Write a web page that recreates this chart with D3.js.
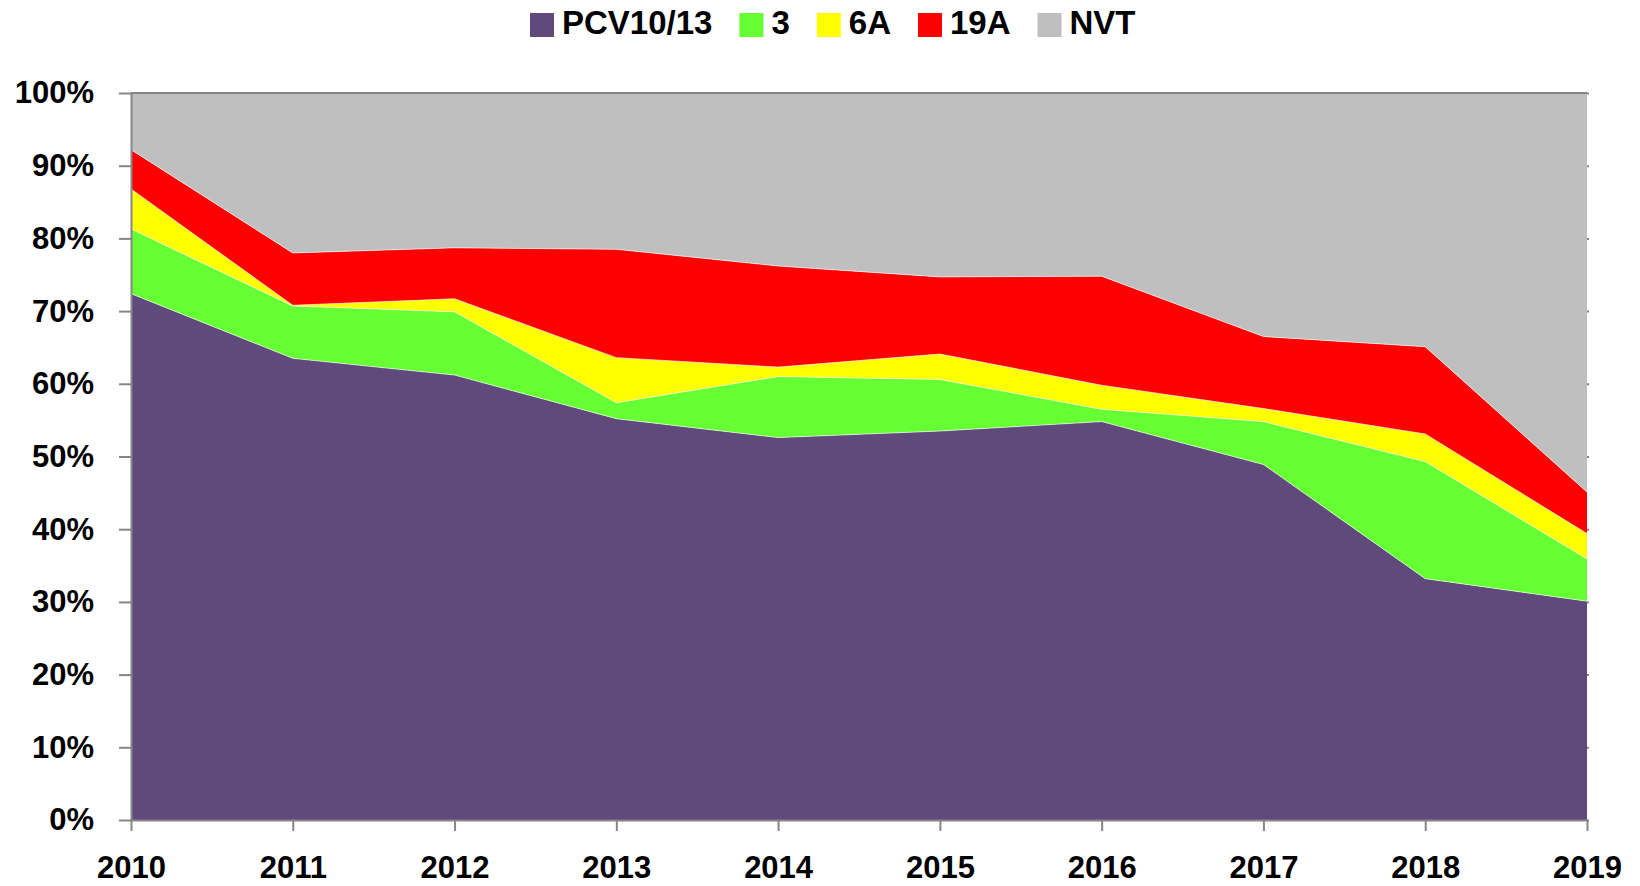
<!DOCTYPE html>
<html>
<head>
<meta charset="utf-8">
<script src="https://cdn.jsdelivr.net/npm/d3@7"></script>
<style>
  body { margin: 0; background: #fff; }
  svg text { font-family: "Liberation Sans", Arial, sans-serif; font-weight: bold; fill: #000; }
</style>
</head>
<body>
<svg id="chart" width="1640" height="886"></svg>
<script>
/*global d3*/

// years on the x axis
const years = [2010, 2011, 2012, 2013, 2014, 2015, 2016, 2017, 2018, 2019];

// share of cases per serotype group (%)
const pcv1013 = [72.4, 63.5, 61.2, 55.2, 52.6, 53.5, 54.8, 48.9, 33.2, 30.1];
const st3     = [ 8.9,  7.2,  8.7,  2.2,  8.4,  7.1,  1.7,  5.9, 16.1,  5.8];
const st6A    = [ 5.5,  0.1,  1.8,  6.2,  1.3,  3.5,  3.3,  1.8,  3.8,  3.5];
const st19A   = [ 5.4,  7.2,  7.0, 14.9, 13.9, 10.6, 15.0,  9.9, 12.0,  5.7];
const nvt     = [ 7.8, 22.0, 21.3, 21.5, 23.8, 25.3, 25.2, 33.5, 34.9, 54.9];

const keys = ["PCV10/13", "3", "6A", "19A", "NVT"];
const yTicks = [0, 0.1, 0.2, 0.3, 0.4, 0.5, 0.6, 0.7, 0.8, 0.9, 1];

const colors = {
    "PCV10/13": "#604a7b",
    "3": "#66ff33",
    "6A": "#ffff00",
    "19A": "#ff0000",
    "NVT": "#bfbfbf"
};

const margin = { top: 93, right: 53, bottom: 66, left: 131 };
const width = 1640 - margin.left - margin.right;
const height = 886 - margin.top - margin.bottom;

const rows = years.map((yr, i) => ({
    year: yr,
    "PCV10/13": pcv1013[i] / 100,
    "3": st3[i] / 100,
    "6A": st6A[i] / 100,
    "19A": st19A[i] / 100,
    "NVT": nvt[i] / 100
}));

const stack = d3.stack().keys(keys)(rows);

const svg = d3.select("#chart");
const g = svg.append("g")
    .attr("transform", `translate(${margin.left}, ${margin.top})`);

const x = d3.scaleLinear()
    .domain(d3.extent(years))
    .range([0, width]);

const y = d3.scaleLinear()
    .domain([0, 1])
    .range([height, 0]);

const area = d3.area()
    .x(d => x(d.data.year))
    .y0(d => y(d[0]))
    .y1(d => y(Math.min(1, d[1])));

g.selectAll(".layer")
    .data(stack)
    .enter()
    .append("path")
    .attr("class", "layer")
    .attr("fill", d => colors[d.key])
    .attr("d", area);

// thin light seams between the stacked areas
const seam = d3.line()
    .x(d => x(d.data.year))
    .y(d => y(d[1]));

g.selectAll(".seam")
    .data(stack.slice(0, 4))
    .enter()
    .append("path")
    .attr("class", "seam")
    .attr("fill", "none")
    .attr("stroke", "#ffffff")
    .attr("stroke-opacity", 0.6)
    .attr("stroke-width", 1)
    .attr("d", seam);

// top border at 100%
g.append("line")
    .attr("x1", 0)
    .attr("x2", width)
    .attr("y1", y(1))
    .attr("y2", y(1))
    .attr("stroke", "#868686")
    .attr("stroke-width", 2);

// tiny tick marks on the right edge
const yRight = g.append("g")
    .attr("transform", `translate(${width}, 0)`)
    .call(d3.axisRight(y).tickValues(yTicks).tickSize(2).tickFormat(""));
yRight.select(".domain").remove();
yRight.selectAll("line").attr("stroke", "#868686").attr("stroke-width", 2);

const yAxis = g.append("g")
    .attr("class", "y-axis")
    .call(d3.axisLeft(y)
        .tickValues(yTicks)
        .tickSize(12)
        .tickSizeOuter(0)
        .tickPadding(25)
        .tickFormat(d3.format(".0%")));

const xAxis = g.append("g")
    .attr("class", "x-axis")
    .attr("transform", `translate(0, ${height})`)
    .call(d3.axisBottom(x)
        .tickValues(years)
        .tickSize(11)
        .tickSizeOuter(0)
        .tickPadding(25)
        .tickFormat(d3.format("d")));

[yAxis, xAxis].forEach(ax => {
    ax.select(".domain").attr("stroke", "#868686").attr("stroke-width", 2);
    ax.selectAll(".tick line").attr("stroke", "#868686").attr("stroke-width", 2);
    ax.selectAll("text")
        .style("font-size", "31px")
        .style("font-family", "'Liberation Sans', Arial, sans-serif")
        .style("font-weight", "bold")
        .attr("fill", "#000");
});

// legend across the top
const legend = svg.append("g").attr("class", "legend");
let lx = 530;
keys.forEach(k => {
    legend.append("rect")
        .attr("x", lx)
        .attr("y", 13)
        .attr("width", 24)
        .attr("height", 24)
        .attr("fill", colors[k]);
    const t = legend.append("text")
        .attr("x", lx + 32)
        .attr("y", 34)
        .style("font-size", "33px")
        .text(k);
    lx += 32 + t.node().getComputedTextLength() + 27;
});
</script>
</body>
</html>
